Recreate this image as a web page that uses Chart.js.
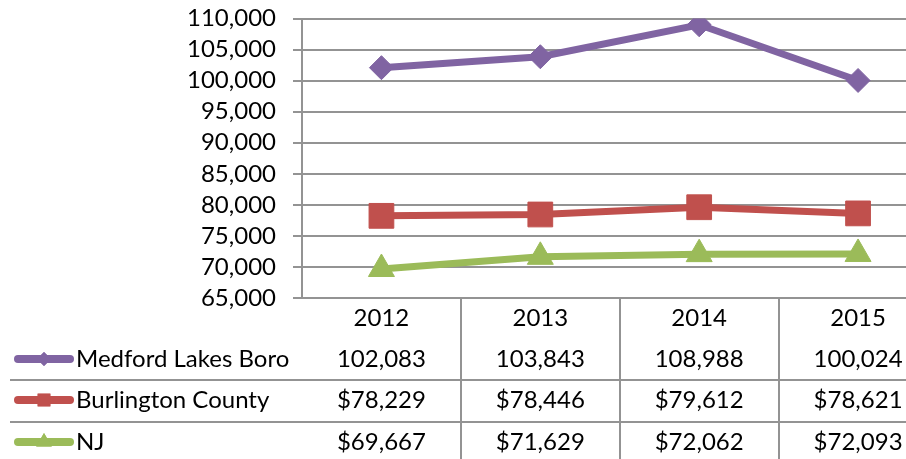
<!DOCTYPE html>
<html>
<head>
<meta charset="utf-8">
<script src="https://cdn.jsdelivr.net/npm/chart.js@4.4.1/dist/chart.umd.min.js"></script>
<style>
  html, body { margin: 0; padding: 0; overflow: hidden; background: #fff; }
  canvas { display: block; }
</style>
</head>
<body>
<canvas id="chart" width="956" height="459"></canvas>
<script>
const years = ['2012', '2013', '2014', '2015'];
const medford = [102083, 103843, 108988, 100024];
const burlington = [78229, 78446, 79612, 78621];
const nj = [69667, 71629, 72062, 72093];
const seriesNames = ['Medford Lakes Boro', 'Burlington County', 'NJ'];
const tablePrefix = ['', '$', '$'];
const yMin = 65000;
const yMax = 110000;
const yStep = 5000;

const COLORS = ['#8064A2', '#C0504D', '#9BBB59'];
const STYLES = ['rectRot', 'rect', 'triangle'];
const FONT = 'Lato, "Open Sans", sans-serif';
const FONT_SIZE = 24;
const GRID = '#939393';

function fmt(v) {
  return v.toLocaleString('en-US');
}

// draws the Excel-like data table under the plot
const dataTable = {
  id: 'dataTable',
  afterDraw(chart) {
    const ctx = chart.ctx;
    const x = chart.scales.x;
    const area = chart.chartArea;
    const H = chart.height;
    const W = chart.width;
    const rowY = [359, 400, 442];
    const sepY = [380, 422];

    ctx.save();
    ctx.strokeStyle = GRID;
    ctx.lineWidth = 2;
    // vertical separators between years
    for (let i = 1; i < years.length; i++) {
      const px = Math.round((x.getPixelForValue(i - 1) + x.getPixelForValue(i)) / 2);
      ctx.beginPath();
      ctx.moveTo(px, area.bottom);
      ctx.lineTo(px, H);
      ctx.stroke();
    }
    // row separators
    sepY.forEach(y => {
      ctx.beginPath();
      ctx.moveTo(10, y);
      ctx.lineTo(W, y);
      ctx.stroke();
    });

    ctx.fillStyle = '#000';
    ctx.font = FONT_SIZE + 'px ' + FONT;
    ctx.textBaseline = 'middle';
    ctx.textAlign = 'center';
    years.forEach((yr, i) => {
      ctx.fillText(yr, x.getPixelForValue(i), 318);
    });

    const rows = [medford, burlington, nj];
    rows.forEach((vals, r) => {
      const y = rowY[r];
      // legend key
      ctx.strokeStyle = COLORS[r];
      ctx.lineWidth = 8;
      ctx.lineCap = 'round';
      ctx.beginPath();
      ctx.moveTo(18, y);
      ctx.lineTo(70, y);
      ctx.stroke();
      ctx.fillStyle = COLORS[r];
      Chart.helpers.drawPoint(ctx, { pointStyle: STYLES[r], radius: r === 0 ? 7 : 9, rotation: 0, borderWidth: 0 }, 44, y);
      ctx.fill();

      ctx.fillStyle = '#000';
      ctx.textAlign = 'left';
      ctx.fillText(seriesNames[r], 76, y);
      ctx.textAlign = 'center';
      vals.forEach((v, i) => {
        ctx.fillText(tablePrefix[r] + fmt(v), x.getPixelForValue(i), y);
      });
    });
    ctx.restore();
  }
};

const datasets = [medford, burlington, nj].map((vals, i) => ({
  label: seriesNames[i],
  data: vals,
  borderColor: COLORS[i],
  backgroundColor: COLORS[i],
  borderWidth: 7,
  pointStyle: STYLES[i],
  pointRadius: [12, 17.5, 15][i],
  pointBorderWidth: 1,
  pointBorderColor: COLORS[i],
  pointBackgroundColor: COLORS[i],
  tension: 0
}));

new Chart(document.getElementById('chart').getContext('2d'), {
  type: 'line',
  data: { labels: years, datasets: datasets },
  options: {
    responsive: false,
    animation: false,
    devicePixelRatio: 1,
    layout: { padding: { left: 0, top: 17.5, right: 2, bottom: 161 } },
    plugins: {
      legend: { display: false },
      tooltip: { enabled: false }
    },
    scales: {
      x: {
        type: 'category',
        display: false,
        offset: true,
        afterFit(scale) { scale.paddingLeft = 0; scale.paddingRight = 0; }
      },
      y: {
        min: yMin,
        max: yMax,
        afterFit(scale) {
          scale.width = 302;
          scale.paddingTop = 0;
          scale.paddingBottom = 0;
        },
        ticks: {
          stepSize: yStep,
          autoSkip: false,
          color: '#000',
          padding: 17,
          font: { family: FONT, size: FONT_SIZE },
          callback: v => fmt(v)
        },
        grid: { color: GRID, lineWidth: 2, tickLength: 9, tickColor: GRID },
        border: { color: GRID, width: 2 }
      }
    }
  },
  plugins: [dataTable]
});
</script>
</body>
</html>
